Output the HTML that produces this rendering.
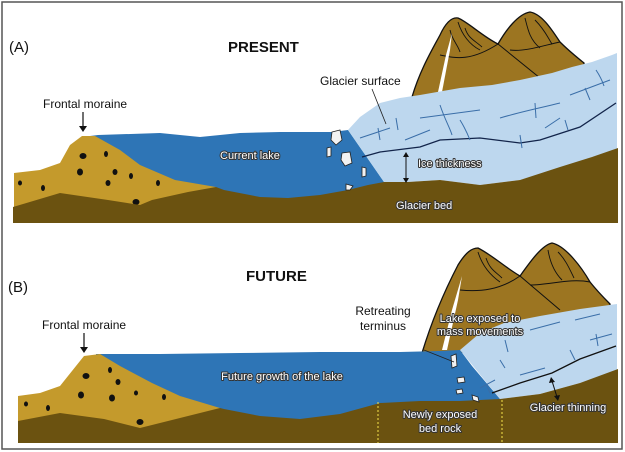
<!DOCTYPE html>
<html><head><meta charset="utf-8"><style>
html,body{margin:0;padding:0;background:#fff;}
svg{display:block;}
text{font-family:"Liberation Sans",sans-serif;}
.w{fill:#fff;stroke:#333;stroke-width:2;paint-order:stroke;stroke-linejoin:round;font-size:11px;}
.b{fill:#111;font-size:12px;}
</style></head><body>
<svg width="625" height="452" viewBox="0 0 625 452" xmlns="http://www.w3.org/2000/svg">
<rect x="2" y="2" width="620" height="447" fill="#fff" stroke="#555" stroke-width="1.5"/>

<!-- PANEL A -->
<g>
<path d="M412,97 C420,70 432,50 440,35 C446,22 452,17 458,18 C468,22 482,36 498,44 C506,30 518,14 530,12 C542,14 552,30 560,42 C570,52 578,58 584,63 L584,95 Z" fill="#9C7521" stroke="#111" stroke-width="1.3"/>
<path d="M498,44 L540,78 M440,55 C455,58 470,62 498,44 M510,50 C525,52 545,45 560,42" fill="none" stroke="#111" stroke-width="1"/>
<path d="M458,22 C462,35 470,45 480,50 M465,28 C468,38 474,40 482,47 M525,18 C528,30 530,40 540,48 M535,20 C545,30 548,38 552,44 M450,30 C452,40 458,45 460,52" fill="none" stroke="#111" stroke-width="0.9"/>
<path d="M438,92 L446,55 L452,33 L450,50 L442,92 Z" fill="#fff"/>
<path d="M90,136 L98,135 L160,133 L200,137 L240,133 L280,132 L332,132 L348,130 L384,182 L384,200 L90,200 Z" fill="#2E75B6"/>
<path d="M14,173 L40,170 L60,163 L70,145 L82,136 L95,136 L120,150 L140,165 L175,180 L216,187 L216,222 L14,222 Z" fill="#C49A2C"/>
<g fill="#111">
<ellipse cx="83" cy="156" rx="3.5" ry="3"/><ellipse cx="106" cy="154" rx="2" ry="3"/><ellipse cx="80" cy="172" rx="3" ry="3.5"/>
<ellipse cx="115" cy="172" rx="2.5" ry="3"/><ellipse cx="108" cy="183" rx="2.5" ry="3"/><ellipse cx="131" cy="176" rx="2" ry="3"/>
<ellipse cx="158" cy="183" rx="2" ry="3"/><ellipse cx="43" cy="188" rx="2" ry="3"/><ellipse cx="20" cy="183" rx="2" ry="2.5"/>
<ellipse cx="136" cy="202" rx="3.5" ry="3"/>
</g>
<path d="M348,130 L360,117 L380,103 L400,98 L420,95 L460,88 L492,85 L520,80 L552,73 L572,67 L592,62 L612,55 L617,53 L617,150 L592,157 L560,168 L520,180 L480,185 L440,180 L408,182 L384,182 Z" fill="#BDD7EE"/>
<path d="M13,207 L60,193 L108,200 L140,205 L152,200 L188,192 L216,187 L224,190 L260,197 L288,198 L320,195 L348,190 L368,185 L384,182 L408,182 L440,180 L480,185 L520,180 L560,167 L592,157 L618,148 L618,223 L13,223 Z" fill="#6B5210"/>
<path d="M362,157 L380,152 L420,147 L440,140 L480,138 L520,143 L540,140 L580,127 L616,103" fill="none" stroke="#12244a" stroke-width="1.3"/>
<g fill="none" stroke="#3a6ea8" stroke-width="1">
<path d="M360,138 L390,128 M378,128 L380,140 M396,118 L398,130 M405,140 L430,130 M440,105 C445,120 450,128 452,135 M420,118 L480,110 M460,120 C465,128 468,135 470,140 M500,118 C520,112 540,108 560,103 M535,103 L536,118 M545,128 L560,118 M570,95 L610,80 M585,88 L590,100 M596,70 C600,76 602,80 604,86 M520,135 L522,148 M565,120 L568,130"/>
</g>
<g fill="#f2f2f2" stroke="#222" stroke-width="0.8">
<path d="M332,132 L340,130 L342,140 L336,145 L331,140 Z"/>
<path d="M327,148 L331,147 L331,156 L327,157 Z"/>
<path d="M342,153 L350,152 L352,163 L345,166 L341,160 Z"/>
<path d="M362,167 L366,168 L366,176 L362,177 Z"/>
<path d="M346,184 L353,186 L350,190 L346,190 Z"/>
</g>
<text x="9" y="52" style="font-size:15px" fill="#111">(A)</text>
<text x="228" y="52" style="font-size:15px;font-weight:bold" fill="#111">PRESENT</text>
<text x="43" y="108" class="b">Frontal moraine</text>
<line x1="83" y1="112" x2="83" y2="128" stroke="#111" stroke-width="1.2"/>
<path d="M79,126 L87,126 L83,132 Z" fill="#111"/>
<text x="320" y="85" class="b">Glacier surface</text>
<line x1="372" y1="89" x2="386" y2="124" stroke="#222" stroke-width="0.8"/>
<text x="220" y="159" class="w">Current lake</text>
<text x="418" y="167" class="w">Ice thickness</text>
<line x1="406" y1="155" x2="406" y2="180" stroke="#111" stroke-width="1"/>
<path d="M403,157 L406,152 L409,157 Z M403,178 L406,183 L409,178 Z" fill="#111"/>
<text x="396" y="209" class="w">Glacier bed</text>
</g>

<!-- PANEL B -->
<g>
<path d="M422,353 C432,320 445,290 458,265 C466,252 472,248 478,248 C492,255 506,268 520,276 C530,262 542,245 552,243 C566,246 582,268 590,282 C598,292 604,298 610,304 L610,350 Z" fill="#9C7521" stroke="#111" stroke-width="1.3"/>
<path d="M520,276 L560,310 M460,290 C480,292 500,290 520,276 M530,285 C550,285 570,278 590,282" fill="none" stroke="#111" stroke-width="1"/>
<path d="M478,252 C482,265 490,275 500,282 M486,258 C490,270 496,272 502,278 M548,250 C550,262 554,272 562,280 M558,252 C566,260 570,270 574,278" fill="none" stroke="#111" stroke-width="0.9"/>
<path d="M442,350 L452,310 L462,276 L458,300 L447,350 Z" fill="#fff"/>
<path d="M96,354 L160,354 L240,353 L320,352 L400,352 L440,351 L460,350 L472,366 L500,399 L500,420 L96,420 Z" fill="#2E75B6"/>
<path d="M18,396 L40,393 L60,386 L84,356 L100,354 L120,366 L152,383 L180,396 L220,408 L220,443 L18,443 Z" fill="#C49A2C"/>
<g fill="#111">
<ellipse cx="86" cy="376" rx="3.5" ry="3"/><ellipse cx="110" cy="370" rx="2" ry="3"/><ellipse cx="118" cy="382" rx="2.5" ry="3"/>
<ellipse cx="81" cy="395" rx="3" ry="3.5"/><ellipse cx="112" cy="398" rx="3" ry="3.5"/><ellipse cx="136" cy="393" rx="2" ry="2.5"/>
<ellipse cx="164" cy="397" rx="2" ry="3"/><ellipse cx="48" cy="408" rx="2" ry="3"/><ellipse cx="26" cy="404" rx="2" ry="2.5"/>
<ellipse cx="140" cy="422" rx="3.5" ry="3"/>
</g>
<path d="M460,350 L480,333 L504,323 L540,316 L580,309 L617,304 L617,370 L580,383 L540,394 L500,399 Z" fill="#BDD7EE"/>
<path d="M18,421 L60,413 L104,419 L140,428 L160,423 L220,408 L224,409 L260,416 L300,419 L340,414 L380,403 L420,401 L460,401 L500,399 L540,394 L580,383 L618,369 L618,443 L18,443 Z" fill="#6B5210"/>
<path d="M492,393 L520,383 L552,373 L580,359 L616,346" fill="none" stroke="#111" stroke-width="1.3"/>
<g fill="none" stroke="#3a6ea8" stroke-width="1">
<path d="M505,340 L508,352 M480,388 L495,380 M486,384 L490,393 M520,375 L545,368 M530,330 L560,322 M570,350 L575,360 M575,320 L600,314 M590,340 L612,334 M596,334 L598,346 M500,360 L505,368"/>
</g>
<g fill="#f2f2f2" stroke="#222" stroke-width="0.8">
<path d="M451,356 L456,354 L457,366 L452,368 Z"/>
<path d="M457,378 L464,377 L465,382 L458,383 Z"/>
<path d="M456,390 L462,389 L463,393 L457,394 Z"/>
<path d="M472,395 L478,397 L479,402 L473,400 Z"/>
</g>
<line x1="378" y1="402" x2="378" y2="443" stroke="#f5e24a" stroke-width="1" stroke-dasharray="2,2"/>
<line x1="502" y1="400" x2="502" y2="443" stroke="#f5e24a" stroke-width="1" stroke-dasharray="2,2"/>
<text x="8" y="292" style="font-size:15px" fill="#111">(B)</text>
<text x="246" y="281" style="font-size:15px;font-weight:bold" fill="#111">FUTURE</text>
<text x="42" y="329" class="b">Frontal moraine</text>
<line x1="84" y1="333" x2="84" y2="349" stroke="#111" stroke-width="1.2"/>
<path d="M80,347 L88,347 L84,353 Z" fill="#111"/>
<text x="383" y="315" class="b" text-anchor="middle">Retreating</text>
<text x="383" y="330" class="b" text-anchor="middle">terminus</text>
<line x1="424" y1="350" x2="454" y2="362" stroke="#222" stroke-width="0.8"/>
<text x="480" y="322" class="w" text-anchor="middle">Lake exposed to</text>
<text x="480" y="335" class="w" text-anchor="middle">mass movements</text>
<text x="282" y="380" class="w" text-anchor="middle">Future growth of the lake</text>
<text x="440" y="418" class="w" text-anchor="middle">Newly exposed</text>
<text x="440" y="432" class="w" text-anchor="middle">bed rock</text>
<text x="568" y="411" class="w" text-anchor="middle">Glacier thinning</text>
<line x1="552" y1="381" x2="557" y2="397" stroke="#111" stroke-width="1"/>
<path d="M549,383 L551,377 L555,382 Z M554,396 L558,401 L560,395 Z" fill="#111"/>
</g>
</svg>
</body></html>
